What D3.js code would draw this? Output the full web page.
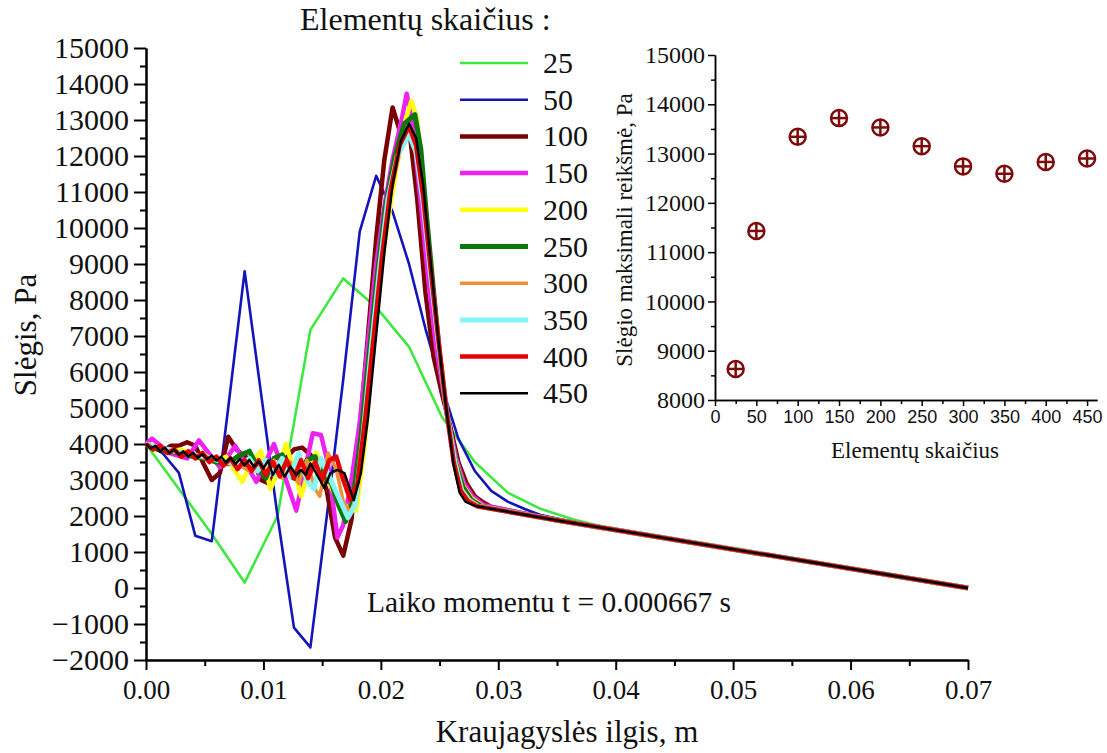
<!DOCTYPE html>
<html>
<head>
<meta charset="utf-8">
<script src="https://cdn.jsdelivr.net/npm/d3@7"></script>
<style>
  body { margin: 0; background: #fff; }
  svg { display: block; }
  text { font-family: "Liberation Serif", "Times New Roman", serif; fill: #111; }
</style>
</head>
<body>
<svg id="chart" width="1107" height="753"></svg>
<script>
// element counts shown in the legend
const counts = [25, 50, 100, 150, 200, 250, 300, 350, 400, 450]

// pressure along the vessel, [length m, pressure Pa]
const s25 = [[0,4000],[0.0028,2750],[0.0056,1500],[0.0084,150],[0.0112,2000],[0.014,7170],[0.0168,8600],[0.0196,7800],[0.0224,6700],[0.0252,4750],[0.028,3500],[0.0308,2650],[0.0336,2200],[0.0364,1900],[0.0392,1680],[0.07,0]]
const s50 = [[0,4000],[0.0014,3750],[0.0028,3200],[0.0042,1450],[0.0056,1300],[0.007,5000],[0.0084,8800],[0.0098,5400],[0.0112,2000],[0.0126,-1100],[0.014,-1650],[0.0154,2000],[0.0168,5800],[0.0182,9900],[0.0196,11450],[0.021,10450],[0.0224,9000],[0.0238,7200],[0.0252,5600],[0.0266,4150],[0.028,3250],[0.0294,2700],[0.0308,2400],[0.0322,2200],[0.0336,2030],[0.035,1930],[0.0364,1840],[0.07,0]]
const s100 = [[0,4000],[0.0007,3900],[0.0014,3800],[0.0021,3950],[0.0028,3950],[0.0035,4050],[0.0042,3950],[0.0049,3450],[0.0056,3000],[0.0063,3200],[0.007,4200],[0.0077,3850],[0.0084,3650],[0.0091,3550],[0.0098,3000],[0.0105,2900],[0.0112,3300],[0.0119,3600],[0.0126,3850],[0.0133,3900],[0.014,3700],[0.0147,3350],[0.0154,2700],[0.0161,1400],[0.0168,900],[0.0175,1900],[0.0182,4400],[0.0189,7000],[0.0196,9700],[0.0203,11900],[0.021,13350],[0.0217,12600],[0.0224,12800],[0.0231,10800],[0.0238,8200],[0.0245,6400],[0.0252,5400],[0.0259,4500],[0.0266,3500],[0.0273,2900],[0.028,2550],[0.0287,2380],[0.0294,2250],[0.035,1880],[0.07,0]]
const s150 = [[0,4000],[0.0005,4150],[0.002,3750],[0.0035,3600],[0.0045,4100],[0.0063,3350],[0.0076,3950],[0.0094,2950],[0.0109,4000],[0.0128,2150],[0.0142,4300],[0.0149,4250],[0.0155,3450],[0.0163,1400],[0.0168,1750],[0.0175,3000],[0.0182,4600],[0.0189,6800],[0.0196,9000],[0.0203,10600],[0.021,11900],[0.0217,12900],[0.0222,13730],[0.0227,12900],[0.0233,11000],[0.024,8700],[0.0247,6700],[0.0256,4900],[0.0264,3600],[0.0271,2900],[0.0278,2550],[0.0288,2300],[0.035,1880],[0.07,0]]
const s200 = [[0,4000],[0.001,3900],[0.002,3800],[0.003,3850],[0.004,3650],[0.005,3700],[0.006,3500],[0.0068,3650],[0.0075,3300],[0.0082,2950],[0.009,3500],[0.0098,3800],[0.0106,2750],[0.0113,3300],[0.0119,4000],[0.0126,3300],[0.0132,2550],[0.0139,3300],[0.0145,3750],[0.0152,3300],[0.0159,2700],[0.0166,2400],[0.0173,2200],[0.0179,2150],[0.0186,3900],[0.0193,6500],[0.02,8800],[0.0207,10400],[0.0214,11800],[0.0221,13000],[0.0226,13540],[0.0231,13000],[0.0236,11300],[0.0242,9000],[0.0249,6800],[0.0256,4900],[0.0263,3600],[0.027,2850],[0.0277,2500],[0.0287,2260],[0.035,1880],[0.07,0]]
const s250 = [[0,4000],[0.001,3850],[0.002,3800],[0.003,3750],[0.004,3650],[0.005,3600],[0.006,3500],[0.007,3450],[0.0078,3650],[0.0088,3800],[0.0096,3300],[0.0102,3050],[0.0109,3600],[0.0116,3700],[0.0123,3100],[0.013,3000],[0.0137,3550],[0.0144,3650],[0.0151,3100],[0.0158,2900],[0.0164,2300],[0.017,1850],[0.0176,2400],[0.0183,4200],[0.019,6500],[0.0197,8700],[0.0204,10600],[0.0212,12000],[0.022,12900],[0.0229,13150],[0.0234,12200],[0.0239,10300],[0.0245,8200],[0.025,6500],[0.0256,4900],[0.0263,3550],[0.027,2800],[0.0277,2450],[0.0286,2260],[0.035,1880],[0.07,0]]
const s300 = [[0,4000],[0.001,3900],[0.002,3800],[0.003,3750],[0.004,3700],[0.005,3600],[0.006,3550],[0.007,3450],[0.008,3400],[0.0088,3250],[0.0095,3500],[0.0102,3200],[0.0109,3550],[0.0116,3050],[0.0123,3500],[0.013,2900],[0.0137,3550],[0.0144,2750],[0.0148,2550],[0.0155,3750],[0.0162,3300],[0.0168,2400],[0.0174,2100],[0.018,2600],[0.0187,4600],[0.0194,6900],[0.0201,9000],[0.0208,10900],[0.0216,12100],[0.0226,12740],[0.0232,12000],[0.0238,10300],[0.0244,8400],[0.025,6600],[0.0256,4900],[0.0263,3500],[0.0269,2750],[0.0276,2450],[0.0284,2270],[0.035,1880],[0.07,0]]
const s350 = [[0,4000],[0.001,3900],[0.002,3850],[0.003,3750],[0.004,3700],[0.005,3650],[0.006,3550],[0.007,3500],[0.008,3400],[0.0088,3600],[0.0095,3250],[0.0102,3550],[0.0109,3150],[0.0116,3600],[0.0123,3100],[0.013,3750],[0.0137,3000],[0.0143,2750],[0.0149,3600],[0.0156,3100],[0.0163,2600],[0.0172,1950],[0.0178,2300],[0.0185,4300],[0.0192,6700],[0.0199,8900],[0.0206,10800],[0.0214,12000],[0.0224,12600],[0.023,12100],[0.0236,10700],[0.0242,8800],[0.0249,6800],[0.0256,4900],[0.0263,3500],[0.0269,2700],[0.0275,2430],[0.0283,2270],[0.035,1880],[0.07,0]]
const s400 = [[0,4000],[0.0006,3850],[0.0012,3950],[0.0018,3750],[0.0024,3850],[0.003,3650],[0.0036,3800],[0.0042,3600],[0.0048,3750],[0.0054,3500],[0.006,3650],[0.0066,3400],[0.0072,3600],[0.0078,3300],[0.0084,3550],[0.009,3250],[0.0096,3550],[0.0102,3150],[0.0108,3500],[0.0114,3100],[0.012,3550],[0.0126,3050],[0.0132,3550],[0.0138,3050],[0.0144,3500],[0.015,3000],[0.0156,3550],[0.0162,3650],[0.0168,3000],[0.0174,2450],[0.018,2900],[0.0187,4800],[0.0194,7000],[0.0201,9200],[0.0208,11000],[0.0216,12300],[0.0224,12830],[0.023,12300],[0.0236,10900],[0.0242,9000],[0.0249,6900],[0.0256,4900],[0.0262,3500],[0.0268,2700],[0.0274,2420],[0.0282,2270],[0.035,1880],[0.07,0]]
const s450 = [[0,4000],[0.0004,3880],[0.0008,3950],[0.0012,3800],[0.0016,3900],[0.002,3740],[0.0024,3850],[0.0028,3700],[0.0032,3800],[0.0036,3650],[0.004,3760],[0.0044,3620],[0.0048,3720],[0.0052,3580],[0.0056,3680],[0.006,3540],[0.0064,3650],[0.0068,3480],[0.0072,3620],[0.0076,3440],[0.008,3580],[0.0084,3400],[0.0088,3560],[0.0092,3360],[0.0096,3520],[0.01,3320],[0.0104,3540],[0.0108,3140],[0.0113,3420],[0.0118,3090],[0.0123,3370],[0.0128,3140],[0.0132,3280],[0.0136,3140],[0.014,3460],[0.0145,3180],[0.0152,2770],[0.0157,3190],[0.0163,3280],[0.0169,3190],[0.0177,2440],[0.0183,3190],[0.0189,4700],[0.0196,7000],[0.0203,9300],[0.021,11200],[0.0217,12400],[0.0224,12900],[0.023,12500],[0.0236,11200],[0.0242,9200],[0.0249,6900],[0.0256,4900],[0.0262,3400],[0.0267,2650],[0.0272,2400],[0.028,2280],[0.035,1880],[0.07,0]]

const series = [s25, s50, s100, s150, s200, s250, s300, s350, s400, s450]

// inset: maximum pressure against number of elements
const maxCounts = [25, 50, 100, 150, 200, 250, 300, 350, 400, 450]
const maxValues = [8630, 11430, 13340, 13720, 13530, 13150, 12740, 12590, 12830, 12900]

// tick values
const xTicks = [0, 0.01, 0.02, 0.03, 0.04, 0.05, 0.06, 0.07]
const xMinor = [0.005, 0.015, 0.025, 0.035, 0.045, 0.055, 0.065]
const yTicks = [-2000, -1000, 0, 1000, 2000, 3000, 4000, 5000, 6000, 7000, 8000, 9000, 10000, 11000, 12000, 13000, 14000, 15000]
const yMinor = [-1500, -500, 500, 1500, 2500, 3500, 4500, 5500, 6500, 7500, 8500, 9500, 10500, 11500, 12500, 13500, 14500]
const inXTicks = [0, 50, 100, 150, 200, 250, 300, 350, 400, 450]
const inXMinor = [25, 75, 125, 175, 225, 275, 325, 375, 425]
const inYTicks = [8000, 9000, 10000, 11000, 12000, 13000, 14000, 15000]
const inYMinor = [8500, 9500, 10500, 11500, 12500, 13500, 14500]

const colors = ["#3ee83e", "#1414b8", "#7a0000", "#ee22ee", "#ffff10", "#0b780b", "#f09034", "#88f4f4", "#e60000", "#000000"]
const widths = [2.6, 2.6, 4.5, 4.5, 4.5, 5, 3.5, 5, 4.5, 2.4]

const serif = "Liberation Serif"
const svg = d3.select("#chart")
svg.append("rect").attr("width", 1107).attr("height", 753).attr("fill", "#fff")

// ---- main chart ----
const x = d3.scaleLinear().domain([0, 0.07]).range([146, 968])
const y = d3.scaleLinear().domain([-2000, 15000]).range([660, 48])

function styleAxis(g, w) {
  g.select(".domain").attr("stroke", "#000").attr("stroke-width", w)
  g.selectAll(".tick line").attr("stroke", "#000").attr("stroke-width", w)
}

const gxMinor = svg.append("g").attr("transform", "translate(0,660)")
  .call(d3.axisBottom(x).tickValues(xMinor).tickSize(6).tickFormat("").tickSizeOuter(0))
styleAxis(gxMinor, 2)
const gx = svg.append("g").attr("transform", "translate(0,660)")
  .call(d3.axisBottom(x).tickValues(xTicks).tickSize(10).tickPadding(10).tickSizeOuter(0).tickFormat(d3.format(".2f")))
styleAxis(gx, 2)
gx.attr("font-family", serif)
gx.selectAll(".tick text").attr("font-size", 27).attr("fill", "#111")

const gyMinor = svg.append("g").attr("transform", "translate(146,0)")
  .call(d3.axisLeft(y).tickValues(yMinor).tickSize(6).tickFormat("").tickSizeOuter(0))
styleAxis(gyMinor, 2)
const gy = svg.append("g").attr("transform", "translate(146,0)")
  .call(d3.axisLeft(y).tickValues(yTicks).tickSize(12).tickPadding(5).tickSizeOuter(0).tickFormat(d3.format("d")))
styleAxis(gy, 2)
gy.attr("font-family", serif)
gy.selectAll(".tick text").attr("font-size", 30).attr("fill", "#111")

svg.append("text").attr("x", 567).attr("y", 742).attr("text-anchor", "middle")
  .attr("font-size", 31).text("Kraujagyslės ilgis, m")
svg.append("text").attr("transform", "translate(36,335) rotate(-90)").attr("text-anchor", "middle")
  .attr("font-size", 31).text("Slėgis, Pa")

const line = d3.line().x(d => x(d[0])).y(d => y(d[1]))
svg.append("g")
  .selectAll("path").data(series).join("path")
  .attr("d", line)
  .attr("fill", "none")
  .attr("stroke", (d, i) => colors[i])
  .attr("stroke-width", (d, i) => widths[i])
  .attr("stroke-linejoin", "round")

svg.append("text").attr("x", 367).attr("y", 612).attr("font-size", 29.5)
  .text("Laiko momentu t = 0.000667 s")

// legend
svg.append("text").attr("x", 300).attr("y", 30).attr("font-size", 32).text("Elementų skaičius :")
const leg = svg.append("g").selectAll("g").data(counts).join("g")
  .attr("transform", (d, i) => `translate(460,${63 + i * 36.7})`)
leg.append("line").attr("x1", 0).attr("x2", 68)
  .attr("stroke", (d, i) => colors[i]).attr("stroke-width", (d, i) => widths[i])
leg.append("text").attr("x", 83).attr("y", 10).attr("font-size", 30).text(d => d)

// ---- inset ----
const ix = d3.scaleLinear().domain([0, 462]).range([715, 1097])
const iy = d3.scaleLinear().domain([8000, 15000]).range([400, 55])

const ixMinor = svg.append("g").attr("transform", "translate(0,400)")
  .call(d3.axisBottom(ix).tickValues(inXMinor).tickSize(4).tickFormat("").tickSizeOuter(0))
styleAxis(ixMinor, 1.5)
const igx = svg.append("g").attr("transform", "translate(0,400)")
  .call(d3.axisBottom(ix).tickValues(inXTicks).tickSize(6).tickPadding(4).tickSizeOuter(0))
styleAxis(igx, 1.5)
igx.attr("font-family", "Liberation Sans")
igx.selectAll(".tick text").attr("font-size", 18).attr("fill", "#222")
  .style("font-family", "'Liberation Sans', Arial, sans-serif")

const iyMinor = svg.append("g").attr("transform", "translate(715,0)")
  .call(d3.axisLeft(iy).tickValues(inYMinor).tickSize(4).tickFormat("").tickSizeOuter(0))
styleAxis(iyMinor, 1.5)
const igy = svg.append("g").attr("transform", "translate(715,0)")
  .call(d3.axisLeft(iy).tickValues(inYTicks).tickSize(7).tickPadding(3).tickSizeOuter(0).tickFormat(d3.format("d")))
styleAxis(igy, 1.5)
igy.attr("font-family", serif)
igy.selectAll(".tick text").attr("font-size", 24).attr("fill", "#111")

svg.append("text").attr("x", 915).attr("y", 458).attr("text-anchor", "middle")
  .attr("font-size", 23).text("Elementų skaičius")
svg.append("text").attr("transform", "translate(632,230) rotate(-90)").attr("text-anchor", "middle")
  .attr("font-size", 23).text("Slėgio maksimali reikšmė, Pa")

const marks = svg.append("g").selectAll("g").data(maxCounts).join("g")
  .attr("transform", (d, i) => `translate(${ix(d)},${iy(maxValues[i])})`)
  .attr("stroke", "#7f0a0a").attr("stroke-width", 2.5).attr("fill", "none")
marks.append("circle").attr("r", 8)
marks.append("line").attr("x1", -8).attr("x2", 8)
marks.append("line").attr("y1", -8).attr("y2", 8)
</script>
</body>
</html>
